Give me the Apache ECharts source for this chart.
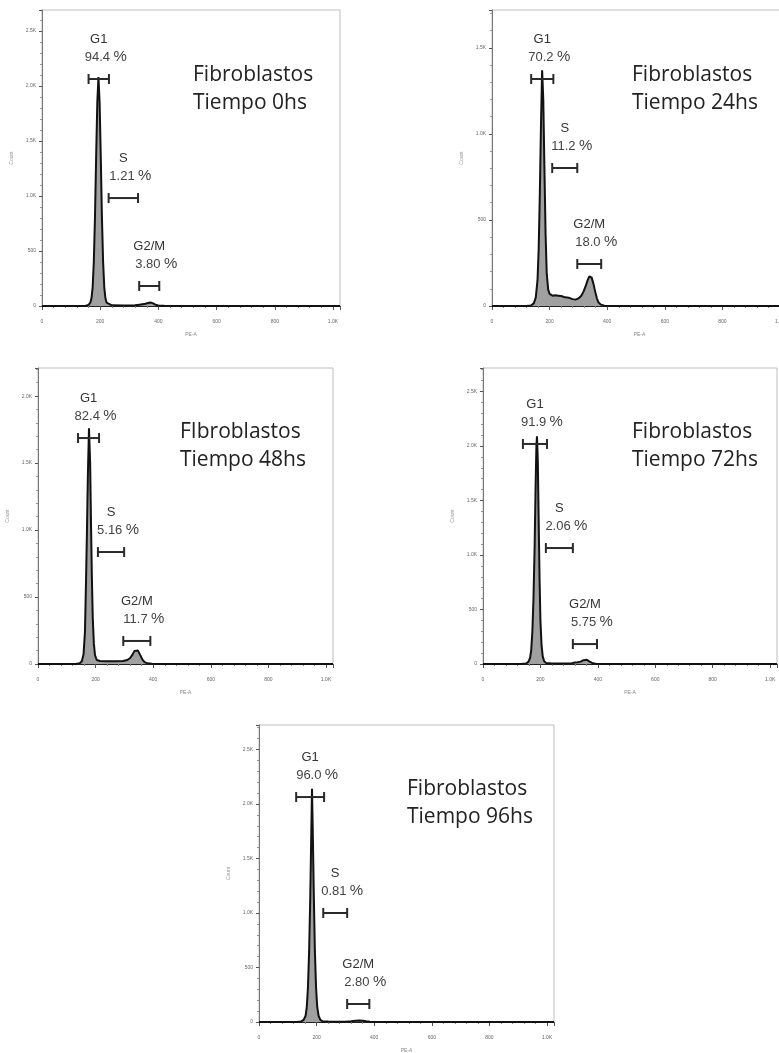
<!DOCTYPE html>
<html><head><meta charset="utf-8">
<script src="https://cdn.jsdelivr.net/npm/echarts@6/dist/echarts.min.js"></script>
<style>html,body{margin:0;padding:0;background:#fff}#c{width:779px;height:1053px}</style>
</head><body><div id="c"></div>
<script>
// ---- data ----
const panelTitles = ['Fibroblastos\nTiempo 0hs','Fibroblastos\nTiempo 24hs','FIbroblastos\nTiempo 48hs','Fibroblastos\nTiempo 72hs','Fibroblastos\nTiempo 96hs'];
const yMax = [2690, 1720, 2210, 2716, 2725];
const xTicks = [0, 200, 400, 600, 800, 1000];
const phaseNames = ['G1', 'S', 'G2/M'];

const hist0 = [[0,0],[120,0],[150,3],[160,10],[166,30],[170,70],[174,170],[178,400],[182,800],[186,1350],[190,1850],[194,2080],[198,1850],[202,1350],[206,800],[210,400],[214,170],[218,70],[222,30],[228,12],[240,6],[280,4],[320,6],[335,12],[345,16],[355,20],[365,28],[372,32],[380,26],[390,12],[400,5],[420,2],[500,0],[1024,0]];
const hist24 = [[0,0],[120,0],[135,3],[145,15],[152,50],[158,150],[162,330],[166,650],[170,1050],[174,1370],[178,1200],[182,800],[186,420],[190,190],[195,95],[200,70],[210,60],[220,62],[230,60],[240,58],[250,52],[260,50],[270,46],[280,40],[290,37],[300,44],[310,60],[318,85],[325,115],[332,150],[338,172],[342,175],[346,165],[352,130],[358,85],[364,45],[370,20],[378,8],[390,2],[420,0],[1024,0]];
const hist48 = [[0,0],[130,0],[145,5],[152,20],[158,70],[163,240],[167,650],[170,1000],[173,1400],[177,1760],[181,1500],[184,1050],[187,650],[190,350],[194,150],[198,65],[204,30],[215,22],[240,20],[270,20],[295,22],[310,30],[320,45],[328,70],[335,98],[341,112],[347,100],[354,70],[362,35],[370,14],[380,5],[395,1],[420,0],[1024,0]];
const hist72 = [[0,0],[130,0],[150,5],[158,20],[164,55],[168,130],[172,300],[176,620],[180,1100],[183,1600],[186,2000],[188,2090],[191,1850],[194,1300],[197,780],[200,400],[204,170],[208,70],[213,25],[220,10],[240,5],[280,4],[310,8],[320,14],[330,16],[340,22],[350,35],[356,42],[362,38],[370,24],[380,10],[392,3],[420,0],[1024,0]];
const hist96 = [[0,0],[130,0],[146,5],[155,20],[162,60],[166,140],[170,320],[174,650],[178,1150],[181,1650],[184,2140],[187,1700],[190,1200],[194,650],[198,320],[202,140],[207,55],[213,20],[220,8],[240,4],[300,3],[320,6],[335,11],[348,13],[360,12],[372,7],[385,2],[410,0],[1024,0]];
const histograms = [hist0, hist24, hist48, hist72, hist96];

// gates: [from channel, to channel, count level]
const gates0 = [[160,230,2063],[229,330,981],[334,403,182]];
const gates24 = [[136,213,1319],[209,296,802],[296,379,244]];
const gates48 = [[139,212,1687],[208,299,836],[296,390,172]];
const gates72 = [[139,223,2019],[219,313,1064],[313,397,183]];
const gates96 = [[129,226,2064],[223,306,1000],[306,383,165]];
const gates = [gates0, gates24, gates48, gates72, gates96];

const pct0 = ['94.4','1.21','3.80'];
const pct24 = ['70.2','11.2','18.0'];
const pct48 = ['82.4','5.16','11.7'];
const pct72 = ['91.9','2.06','5.75'];
const pct96 = ['96.0','0.81','2.80'];
const pcts = [pct0, pct24, pct48, pct72, pct96];

// ---- layout ----
const grids = [
  {left:42, top:10, width:298, height:296},
  {left:492, top:10, width:295, height:296},
  {left:38, top:368, width:295, height:296},
  {left:483, top:368, width:294, height:296},
  {left:259, top:725, width:295, height:297}
];
const titlePos = [[193,61],[632,61],[180,418],[632,418],[407,775]];

const kFmt = v => v === 0 ? '0' : (v >= 1000 ? (v/1000).toFixed(1) + 'K' : String(v));

const option = {
  animation: false,
  backgroundColor: '#fff',
  title: panelTitles.map((t,i) => ({
    text: t, left: titlePos[i][0], top: titlePos[i][1], padding: 0,
    textStyle: {fontFamily: 'Open Sans', fontSize: 21, fontWeight: 'normal', color: '#222', lineHeight: 28}
  })),
  grid: grids.map(g => Object.assign({show: true, borderColor: '#bdbdbd', borderWidth: 1, backgroundColor: '#fff', containLabel: false, outerBoundsMode: 'none'}, g)),
  xAxis: grids.map((g,i) => ({
    gridIndex: i, type: 'value', min: 0, max: 1024, interval: 200,
    name: 'PE-A', nameLocation: 'middle', nameGap: 26,
    nameTextStyle: {fontSize: 5, color: '#888', fontFamily: 'Liberation Sans'},
    axisLine: {onZero: false, lineStyle: {color: '#222', width: 1}},
    axisTick: {length: 4, lineStyle: {color: '#555'}},
    minorTick: {show: true, splitNumber: 5, length: 2, lineStyle: {color: '#888'}},
    axisLabel: {fontSize: 5, color: '#666', margin: 13, showMaxLabel: false, formatter: kFmt, fontFamily: 'Liberation Sans'},
    splitLine: {show: false}
  })),
  yAxis: grids.map((g,i) => ({
    gridIndex: i, type: 'value', min: 0, max: yMax[i], interval: 500,
    name: 'Count', nameLocation: 'middle', nameGap: 28, nameRotate: 90,
    nameTextStyle: {fontSize: 5, color: '#999', fontFamily: 'Liberation Sans'},
    axisLine: {show: true, lineStyle: {color: '#777', width: 1}},
    axisTick: {show: true, length: 3, lineStyle: {color: '#555'}},
    minorTick: {show: true, splitNumber: 5, length: 2, lineStyle: {color: '#999'}},
    axisLabel: {fontSize: 5, color: '#666', margin: 6, showMaxLabel: false, formatter: kFmt, fontFamily: 'Liberation Sans'},
    splitLine: {show: false}
  })),
  series: []
};

histograms.forEach((h,i) => {
  option.series.push({
    type: 'line', xAxisIndex: i, yAxisIndex: i, data: h,
    showSymbol: false, smooth: false, z: 3,
    lineStyle: {color: '#111', width: 2},
    areaStyle: {color: '#a0a0a0', opacity: 1}
  });
  const g = gates[i], p = pcts[i];
  option.series.push({
    type: 'custom', xAxisIndex: i, yAxisIndex: i, data: g, z: 5,
    encode: {x: [0,1], y: 2},
    renderItem: (params, api) => {
      const k = params.dataIndex;
      const a = api.coord([api.value(0), api.value(2)]);
      const b = api.coord([api.value(1), api.value(2)]);
      const cx = (a[0] + b[0]) / 2, y = a[1];
      const st = {stroke: '#2a2a2a', lineWidth: 2};
      return {type: 'group', children: [
        {type: 'line', shape: {x1: a[0], y1: y, x2: b[0], y2: y}, style: st},
        {type: 'line', shape: {x1: a[0], y1: y - 5, x2: a[0], y2: y + 5}, style: st},
        {type: 'line', shape: {x1: b[0], y1: y - 5, x2: b[0], y2: y + 5}, style: st},
        {type: 'text', style: {text: phaseNames[k], x: cx, y: y - 40, align: 'center', verticalAlign: 'middle',
          fontSize: 13, fontFamily: 'Liberation Sans', fill: '#333'}},
        {type: 'text', style: {text: '{n|' + p[k] + '} {q|%}', x: cx + 7, y: y - 22, align: 'center', verticalAlign: 'middle',
          rich: {n: {fontSize: 13, fontFamily: 'Liberation Sans', fill: '#444', color: '#444'},
                 q: {fontSize: 15, fontFamily: 'Liberation Sans', fill: '#444', color: '#444'}}}}
      ]};
    }
  });
});

const chart = echarts.init(document.getElementById('c'), null, {renderer: 'canvas'});
chart.setOption(option);
</script>
</body></html>
